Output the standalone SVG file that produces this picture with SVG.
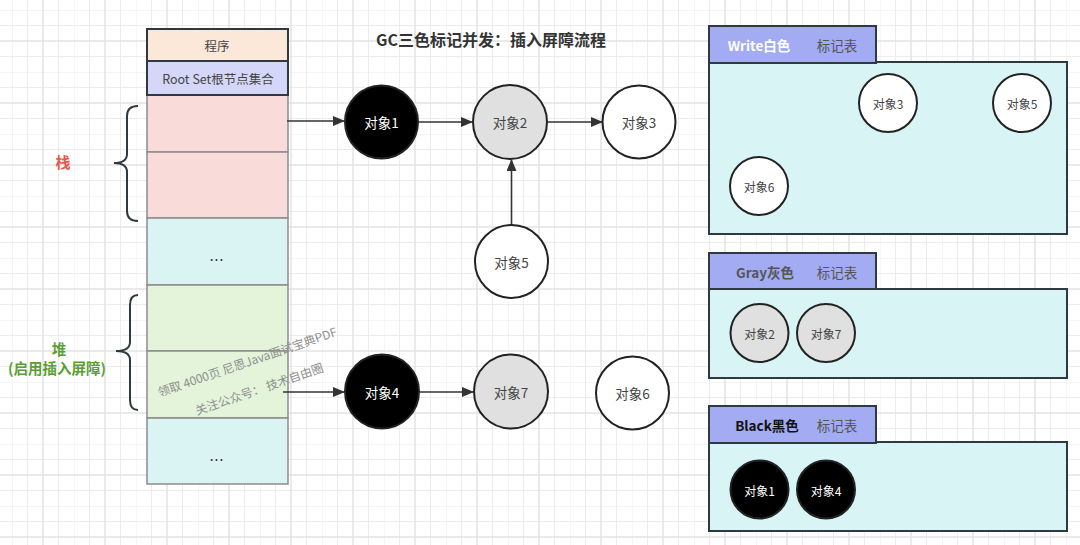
<svg xmlns="http://www.w3.org/2000/svg" width="1080" height="545" viewBox="0 0 1080 545">
<defs>
<pattern id="grid" patternUnits="userSpaceOnUse" x="12" y="10" width="62" height="62">
<path d="M0 0V62M15.5 0V62M46.5 0V62M0 0H62M0 15.5H62M0 46.5H62" stroke="#ececec" stroke-width="1" fill="none"/>
<path d="M31 0V62M0 31H62" stroke="#e3e3e3" stroke-width="1.5" fill="none"/>
</pattern>
<marker id="arr" viewBox="0 0 12 10" refX="11" refY="5" markerWidth="12" markerHeight="10" markerUnits="userSpaceOnUse" orient="auto">
<path d="M0 0L12 5L0 10Z" fill="#333"/>
</marker>
<style>
text{font-family:"Noto Sans CJK SC","Noto Sans",sans-serif;text-anchor:middle;dominant-baseline:central}
.cell{stroke:#8c8c8c;stroke-width:1.5}
.hd{stroke:#2f3a40;stroke-width:2}
.t12{font-size:12.5px;fill:#444}
.dots{font-size:14px;fill:#333;letter-spacing:1px}
.node{stroke:#222;stroke-width:2}
.blk{fill:#000}
.gry{fill:#e0e0e0}
.wht{fill:#fff}
.nt{font-size:13.5px;fill:#444}
.nw{font-size:13.5px;fill:#fff}
.st{font-size:12px;fill:#444}
.sw{font-size:12px;fill:#fff}
.tab{fill:#a3abf2;stroke:#2f3a40;stroke-width:2}
.body{fill:#d9f4f4;stroke:#2f3a40;stroke-width:2}
.tt{font-size:13.5px;font-weight:bold}
.lab{font-size:13.5px;fill:#555}
.conn{stroke:#333;stroke-width:1.6;fill:none}
.brace{stroke:#2f3a40;stroke-width:2;fill:none}
.wm{font-size:12px;fill:#8f8f8f}
</style>
</defs>
<rect width="1080" height="545" fill="#fff"/>
<rect width="1080" height="545" fill="url(#grid)"/>

<text x="491" y="39" style="font-size:16px;font-weight:bold;fill:#333">GC三色标记并发：插入屏障流程</text>

<g id="stack-column">
<rect x="147" y="95" width="141" height="57" fill="#f9dbd9" class="cell"/>
<rect x="147" y="152" width="141" height="66" fill="#f9dbd9" class="cell"/>
<rect x="147" y="218" width="141" height="67" fill="#daf3f3" class="cell"/>
<text x="217" y="255" class="dots">...</text>
<rect x="147" y="285" width="141" height="66" fill="#e3f4da" class="cell"/>
<rect x="147" y="351" width="141" height="67" fill="#e3f4da" class="cell"/>
<rect x="147" y="418" width="141" height="66" fill="#daf3f3" class="cell"/>
<text x="217" y="455" class="dots">...</text>
<rect x="147" y="29" width="141" height="32" fill="#fce8d8" class="hd"/>
<text x="217" y="45" class="t12">程序</text>
<rect x="147" y="61" width="141" height="34" fill="#d4d7f7" class="hd"/>
<text x="218" y="78" class="t12">Root Set根节点集合</text>
</g>

<g id="stack-label">
<path class="brace" d="M138 106Q127 106 127 116V154Q127 163 114 163Q127 163 127 172V211Q127 221 138 221"/>
<text x="63" y="161" style="font-size:15px;font-weight:bold;fill:#e8574c">栈</text>
</g>
<g id="heap-label">
<path class="brace" d="M138 295Q130 295 130 305V342Q130 351 116 351Q130 351 130 360V400Q130 410 138 410"/>
<text x="59" y="348" style="font-size:14.5px;font-weight:bold;fill:#5c9e32">堆</text>
<text x="57" y="367" style="font-size:14.5px;font-weight:bold;fill:#5c9e32">(启用插入屏障)</text>
</g>

<g id="watermark">
<text x="247" y="361" class="wm" transform="rotate(-19 247 361)">领取 4000页 尼恩Java面试宝典PDF</text>
<text x="259" y="388" class="wm" transform="rotate(-19 259 388)">关注公众号： 技术自由圈</text>
</g>

<g id="connectors">
<line class="conn" x1="287" y1="121" x2="344" y2="121" marker-end="url(#arr)"/>
<line class="conn" x1="419" y1="122" x2="472" y2="122" marker-end="url(#arr)"/>
<line class="conn" x1="548" y1="122" x2="602" y2="122" marker-end="url(#arr)"/>
<line class="conn" x1="511.5" y1="225" x2="511.5" y2="160" marker-end="url(#arr)"/>
<line class="conn" x1="283" y1="392" x2="344" y2="392" marker-end="url(#arr)"/>
<line class="conn" x1="420" y1="392" x2="473" y2="392" marker-end="url(#arr)"/>
</g>

<g id="obj1"><circle cx="381.5" cy="122" r="36.5" class="node blk"/><text x="381.5" y="122" class="nw">对象1</text></g>
<g id="obj2"><circle cx="510" cy="122" r="37" class="node gry"/><text x="510" y="122" class="nt">对象2</text></g>
<g id="obj3"><circle cx="639" cy="122" r="36.5" class="node wht"/><text x="639" y="122" class="nt">对象3</text></g>
<g id="obj5"><circle cx="511.5" cy="261.5" r="36.5" class="node wht"/><text x="511.5" y="262" class="nt">对象5</text></g>
<g id="obj4"><circle cx="382" cy="391.5" r="37" class="node blk"/><text x="382" y="392" class="nw">对象4</text></g>
<g id="obj7"><circle cx="511" cy="391.5" r="37" class="node gry"/><text x="511" y="392" class="nt">对象7</text></g>
<g id="obj6"><circle cx="632.5" cy="393" r="36.5" class="node wht"/><text x="632.5" y="393" class="nt">对象6</text></g>

<g id="white-table">
<rect x="709" y="62" width="358" height="172" class="body"/>
<rect x="709" y="26" width="167" height="37" class="tab"/>
<text x="759" y="45" class="tt" fill="#fff">Write白色</text>
<text x="837" y="45" class="lab">标记表</text>
<circle cx="888" cy="103" r="29" class="node wht"/><text x="888" y="103" class="st">对象3</text>
<circle cx="1022" cy="103" r="29" class="node wht"/><text x="1022" y="103" class="st">对象5</text>
<circle cx="759" cy="186" r="29" class="node wht"/><text x="759" y="186" class="st">对象6</text>
</g>

<g id="gray-table">
<rect x="709" y="289" width="358" height="89" class="body"/>
<rect x="709" y="253" width="167" height="36" class="tab"/>
<text x="765" y="272" class="tt" fill="#555">Gray灰色</text>
<text x="837" y="272" class="lab">标记表</text>
<circle cx="759.5" cy="333" r="29" class="node gry"/><text x="759.5" y="333" class="st">对象2</text>
<circle cx="826" cy="333" r="29" class="node gry"/><text x="826" y="333" class="st">对象7</text>
</g>

<g id="black-table">
<rect x="709" y="442" width="358" height="89" class="body"/>
<rect x="709" y="406" width="167" height="37" class="tab"/>
<text x="767" y="425" class="tt" fill="#111">Black黑色</text>
<text x="837" y="425" class="lab">标记表</text>
<circle cx="759.5" cy="489.5" r="29" class="node blk"/><text x="759.5" y="490" class="sw">对象1</text>
<circle cx="826" cy="489.5" r="29" class="node blk"/><text x="826" y="490" class="sw">对象4</text>
</g>
</svg>
